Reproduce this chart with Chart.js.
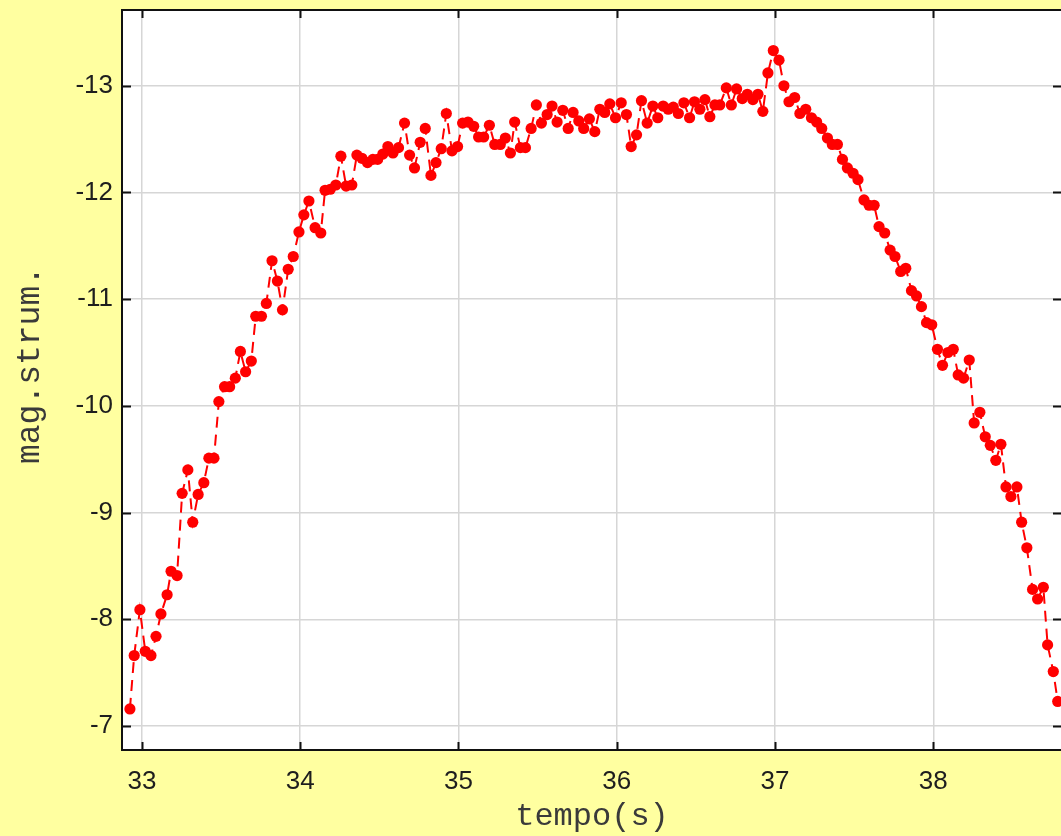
<!DOCTYPE html>
<html>
<head>
<meta charset="utf-8">
<script src="https://cdn.jsdelivr.net/npm/chart.js@4.4.1/dist/chart.umd.min.js"></script>
<style>
  html, body { margin: 0; padding: 0; background: #ffffa0; overflow: hidden; }
</style>
</head>
<body>
<canvas id="lightCurve" width="1064" height="836"></canvas>
<script>
// tempi (s)
const times = [
  32.924, 32.951, 32.987, 33.021, 33.057, 33.089, 33.120, 33.159, 33.184, 33.222,
  33.254, 33.290, 33.321, 33.355, 33.391, 33.423, 33.455, 33.486, 33.522, 33.554,
  33.590, 33.622, 33.655, 33.691, 33.719, 33.755, 33.786, 33.822, 33.856, 33.888,
  33.924, 33.956, 33.992, 34.023, 34.055, 34.094, 34.130, 34.157, 34.190, 34.225,
  34.257, 34.290, 34.326, 34.358, 34.390, 34.425, 34.459, 34.489, 34.522, 34.554,
  34.586, 34.621, 34.659, 34.691, 34.722, 34.758, 34.790, 34.826, 34.858, 34.891,
  34.923, 34.959, 34.994, 35.026, 35.060, 35.096, 35.127, 35.159, 35.195, 35.229,
  35.264, 35.296, 35.328, 35.355, 35.391, 35.423, 35.459, 35.492, 35.524, 35.560,
  35.591, 35.623, 35.659, 35.693, 35.724, 35.760, 35.791, 35.827, 35.861, 35.893,
  35.924, 35.956, 35.992, 36.028, 36.061, 36.091, 36.125, 36.156, 36.192, 36.228,
  36.259, 36.293, 36.325, 36.357, 36.389, 36.424, 36.460, 36.491, 36.525, 36.557,
  36.588, 36.620, 36.651, 36.692, 36.724, 36.757, 36.793, 36.825, 36.860, 36.892,
  36.923, 36.955, 36.989, 37.025, 37.056, 37.088, 37.124, 37.157, 37.194, 37.230,
  37.263, 37.295, 37.331, 37.362, 37.394, 37.426, 37.457, 37.493, 37.524, 37.562,
  37.594, 37.626, 37.657, 37.693, 37.727, 37.758, 37.794, 37.826, 37.862, 37.894,
  37.925, 37.957, 37.990, 38.026, 38.058, 38.092, 38.126, 38.157, 38.191, 38.227,
  38.258, 38.294, 38.328, 38.360, 38.395, 38.427, 38.459, 38.490, 38.528, 38.558,
  38.591, 38.627, 38.659, 38.695, 38.722, 38.758, 38.786
];

// magnitudine strumentale
const mags = [
  -7.16, -7.66, -8.09, -7.70, -7.66, -7.84, -8.05, -8.23, -8.45, -8.41,
  -9.18, -9.40, -8.91, -9.17, -9.28, -9.51, -9.51, -10.04, -10.18, -10.18,
  -10.26, -10.51, -10.32, -10.42, -10.84, -10.84, -10.96, -11.36, -11.17, -10.90,
  -11.28, -11.40, -11.63, -11.79, -11.92, -11.67, -11.62, -12.02, -12.03, -12.07,
  -12.34, -12.06, -12.07, -12.35, -12.32, -12.28, -12.31, -12.31, -12.36, -12.43,
  -12.37, -12.42, -12.65, -12.35, -12.23, -12.47, -12.60, -12.16, -12.28, -12.41,
  -12.74, -12.39, -12.43, -12.65, -12.66, -12.62, -12.52, -12.52, -12.63, -12.45,
  -12.45, -12.51, -12.37, -12.66, -12.42, -12.42, -12.60, -12.82, -12.65, -12.73,
  -12.81, -12.66, -12.77, -12.60, -12.75, -12.67, -12.60, -12.69, -12.57, -12.78,
  -12.75, -12.83, -12.70, -12.84, -12.73, -12.43, -12.54, -12.86, -12.65, -12.81,
  -12.70, -12.81, -12.78, -12.80, -12.74, -12.84, -12.70, -12.85, -12.78, -12.87,
  -12.71, -12.82, -12.82, -12.98, -12.82, -12.97, -12.88, -12.92, -12.87, -12.92,
  -12.76, -13.12, -13.33, -13.24, -13.00, -12.85, -12.89, -12.74, -12.78, -12.70,
  -12.66, -12.60, -12.51, -12.45, -12.45, -12.31, -12.23, -12.18, -12.12, -11.93,
  -11.88, -11.88, -11.68, -11.62, -11.46, -11.40, -11.26, -11.29, -11.08, -11.03,
  -10.93, -10.78, -10.76, -10.53, -10.38, -10.50, -10.53, -10.29, -10.26, -10.43,
  -9.84, -9.94, -9.71, -9.63, -9.49, -9.64, -9.24, -9.15, -9.24, -8.91,
  -8.67, -8.28, -8.19, -8.30, -7.76, -7.51, -7.23
];

// etichette degli assi
const xTicks = [33, 34, 35, 36, 37, 38];
const yTicks = [-13, -12, -11, -10, -9, -8, -7];
const xTitle = "tempo(s)";
const yTitle = "mag.strum.";

const points = times.map((t, i) => ({ x: t, y: mags[i] }));

// sfondo giallo, area bianca, riquadro e tacche interne
const framePlugin = {
  id: "frame",
  beforeDraw(chart) {
    const { ctx, chartArea: a } = chart;
    ctx.save();
    ctx.fillStyle = "#ffffa0";
    ctx.fillRect(0, 0, chart.width, chart.height);
    ctx.fillStyle = "#ffffff";
    ctx.fillRect(a.left, a.top, a.right - a.left, a.bottom - a.top);
    ctx.restore();
  },
  afterDraw(chart) {
    const { ctx, chartArea: a, scales } = chart;
    ctx.save();
    ctx.strokeStyle = "#111";
    ctx.lineWidth = 2;
    ctx.strokeRect(a.left, a.top, a.right - a.left, a.bottom - a.top);
    ctx.beginPath();
    scales.x.ticks.forEach((t, i) => {
      const px = Math.round(scales.x.getPixelForTick(i)) + 0.5;
      ctx.moveTo(px, a.bottom); ctx.lineTo(px, a.bottom - 8);
      ctx.moveTo(px, a.top); ctx.lineTo(px, a.top + 8);
    });
    scales.y.ticks.forEach((t, i) => {
      const py = Math.round(scales.y.getPixelForTick(i)) + 0.5;
      ctx.moveTo(a.left, py); ctx.lineTo(a.left + 9, py);
      ctx.moveTo(a.right, py); ctx.lineTo(a.right - 9, py);
    });
    ctx.stroke();
    // titolo asse y
    ctx.fillStyle = "#3a3a3a";
    ctx.font = "33px 'Liberation Mono'";
    ctx.textAlign = "center";
    ctx.textBaseline = "middle";
    ctx.translate(30, 365);
    ctx.rotate(-Math.PI / 2);
    ctx.fillText(yTitle, 0, 0);
    ctx.restore();
  }
};

const chart = new Chart(document.getElementById("lightCurve"), {
  type: "line",
  data: {
    datasets: [{
      data: points,
      borderColor: "#ff0000",
      backgroundColor: "#ff0000",
      borderWidth: 2,
      borderDash: [11, 7],
      pointRadius: 5.6,
      pointBorderWidth: 0,
      tension: 0
    }]
  },
  options: {
    responsive: false,
    animation: false,
    events: [],
    layout: { autoPadding: false, padding: { top: 10, right: 2, left: 0, bottom: 0 } },
    plugins: { legend: { display: false }, tooltip: { enabled: false } },
    scales: {
      x: {
        type: "linear",
        min: 32.874,
        max: 38.813,
        afterBuildTicks: (s) => { s.ticks = xTicks.map(v => ({ value: v })); },
        afterFit: (s) => { s.height = 86; s.paddingLeft = 0; s.paddingRight = 0; },
        grid: { color: "#d6d6d6", lineWidth: 1.5, drawTicks: false },
        border: { display: false },
        ticks: { padding: 16, color: "#1e1e1e", font: { family: "'Liberation Sans'", size: 26 } },
        title: {
          display: true,
          text: xTitle,
          color: "#3a3a3a",
          padding: { top: 0, bottom: 0 },
          font: { family: "'Liberation Mono'", size: 32 }
        }
      },
      y: {
        type: "linear",
        reverse: true,
        min: -13.71,
        max: -6.775,
        afterBuildTicks: (s) => { s.ticks = yTicks.map(v => ({ value: v })); },
        afterFit: (s) => { s.width = 122; s.paddingTop = 0; s.paddingBottom = 0; },
        grid: { color: "#d6d6d6", lineWidth: 1.5, drawTicks: false },
        border: { display: false },
        ticks: { padding: 9, color: "#1e1e1e", font: { family: "'Liberation Sans'", size: 26 } }
      }
    }
  },
  plugins: [framePlugin]
});
</script>
</body>
</html>
